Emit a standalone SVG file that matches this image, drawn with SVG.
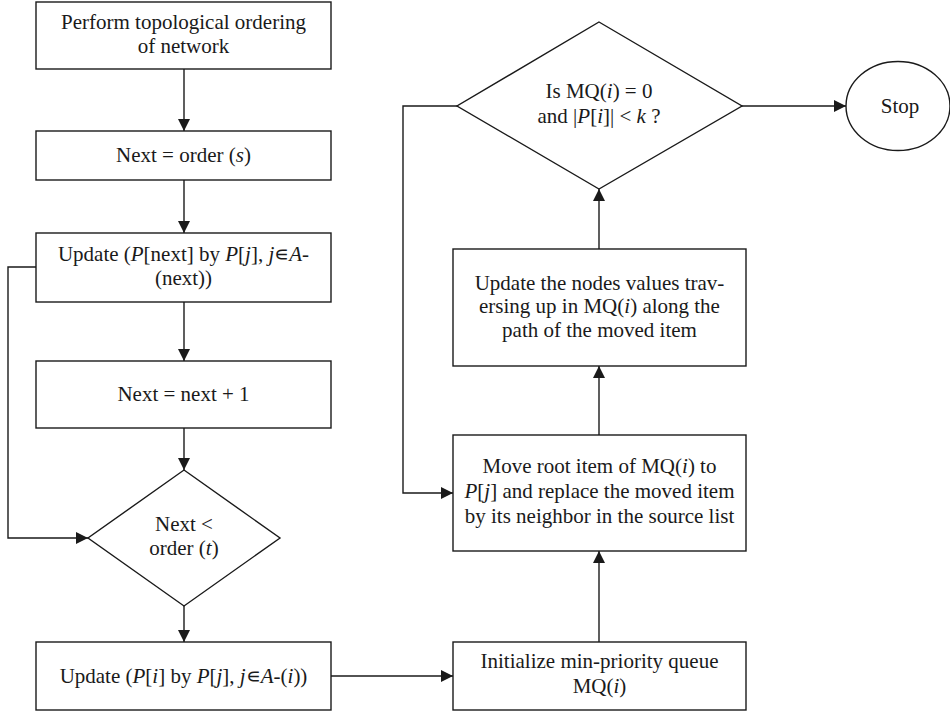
<svg xmlns="http://www.w3.org/2000/svg" width="950" height="714" viewBox="0 0 950 714">
<style>
.shape{fill:#fff;stroke:#1a1a1a;stroke-width:1.4}
.conn{fill:none;stroke:#1a1a1a;stroke-width:1.4}
text{font-family:"Liberation Serif","Times New Roman",serif;font-size:21px;fill:#1a1a1a;text-anchor:middle}
.it{font-style:italic}
</style>
<defs>
<marker id="arr" viewBox="0 0 12 12" refX="12" refY="6" markerWidth="12" markerHeight="12" markerUnits="userSpaceOnUse" orient="auto">
<path d="M0,0 L12,6 L0,12 z" fill="#1a1a1a"/>
</marker>
</defs>
<rect width="950" height="714" fill="#fff"/>
<g id="connectors">
<path class="conn" d="M184,69 V131" marker-end="url(#arr)"/>
<path class="conn" d="M184,180 V233" marker-end="url(#arr)"/>
<path class="conn" d="M184,302 V361" marker-end="url(#arr)"/>
<path class="conn" d="M184,428 V470" marker-end="url(#arr)"/>
<path class="conn" d="M184,606 V642" marker-end="url(#arr)"/>
<path class="conn" d="M36,267 H8 V538 H88" marker-end="url(#arr)"/>
<path class="conn" d="M331,676 H453" marker-end="url(#arr)"/>
<path class="conn" d="M599,642 V551" marker-end="url(#arr)"/>
<path class="conn" d="M599,435 V366" marker-end="url(#arr)"/>
<path class="conn" d="M599,249 V189" marker-end="url(#arr)"/>
<path class="conn" d="M457,106 H403 V493 H453" marker-end="url(#arr)"/>
<path class="conn" d="M742,106 H846" marker-end="url(#arr)"/>
</g>
<g id="n1">
<rect class="shape" x="36" y="2" width="295" height="67"/>
<text x="183.5" y="29">Perform topological ordering</text>
<text x="183.5" y="53">of network</text>
</g>
<g id="n2">
<rect class="shape" x="36" y="131" width="295" height="49"/>
<text x="183.5" y="162">Next = order (<tspan class="it">s</tspan>)</text>
</g>
<g id="n3">
<rect class="shape" x="36" y="233" width="295" height="69"/>
<text x="183.5" y="261">Update (<tspan class="it">P</tspan>[next] by <tspan class="it">P</tspan>[<tspan class="it">j</tspan>], <tspan class="it">j</tspan>∊<tspan class="it">A</tspan>-</text>
<text x="183.5" y="285">(next))</text>
</g>
<g id="n4">
<rect class="shape" x="36" y="361" width="295" height="67"/>
<text x="183.5" y="401">Next = next + 1</text>
</g>
<g id="n5">
<path class="shape" d="M184,470 L280,538 L184,606 L88,538 Z"/>
<text x="184" y="531">Next &lt;</text>
<text x="184" y="555">order (<tspan class="it">t</tspan>)</text>
</g>
<g id="n6">
<rect class="shape" x="36" y="642" width="295" height="68"/>
<text x="183.5" y="683">Update (<tspan class="it">P</tspan>[<tspan class="it">i</tspan>] by <tspan class="it">P</tspan>[<tspan class="it">j</tspan>], <tspan class="it">j</tspan>∊<tspan class="it">A</tspan>-(<tspan class="it">i</tspan>))</text>
</g>
<g id="n7">
<rect class="shape" x="453" y="642" width="293" height="68"/>
<text x="599.5" y="668">Initialize min-priority queue</text>
<text x="599.5" y="693">MQ(<tspan class="it">i</tspan>)</text>
</g>
<g id="n8">
<rect class="shape" x="453" y="435" width="293" height="116"/>
<text x="599.5" y="473">Move root item of MQ(<tspan class="it">i</tspan>) to</text>
<text x="599.5" y="498"><tspan class="it">P</tspan>[<tspan class="it">j</tspan>] and replace the moved item</text>
<text x="599.5" y="523">by its neighbor in the source list</text>
</g>
<g id="n9">
<rect class="shape" x="453" y="249" width="293" height="117"/>
<text x="599.5" y="290">Update the nodes values trav-</text>
<text x="599.5" y="313">ersing up in MQ(<tspan class="it">i</tspan>) along the</text>
<text x="599.5" y="337">path of the moved item</text>
</g>
<g id="n10">
<path class="shape" d="M599,22 L742,106 L599,189 L457,106 Z"/>
<text x="599" y="98">Is MQ(<tspan class="it">i</tspan>) = 0</text>
<text x="599" y="123">and |<tspan class="it">P</tspan>[<tspan class="it">i</tspan>]| &lt; <tspan class="it">k</tspan> ?</text>
</g>
<g id="n11">
<ellipse class="shape" cx="898" cy="106" rx="52" ry="44.5"/>
<text x="900" y="113">Stop</text>
</g>
</svg>
